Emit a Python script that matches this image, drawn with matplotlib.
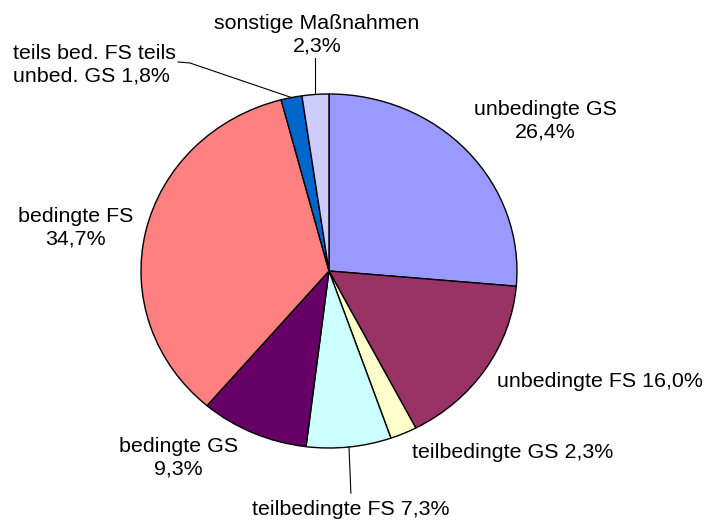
import numpy as np
import matplotlib.pyplot as plt

plt.rcParams['font.family'] = ['Liberation Sans', 'DejaVu Sans']

labels = ['unbedingte GS\n26,4%', 'unbedingte FS 16,0%', 'teilbedingte GS 2,3%',
          'teilbedingte FS 7,3%', 'bedingte GS\n9,3%', 'bedingte FS\n34,7%',
          'teils bed. FS teils\nunbed. GS 1,8%', 'sonstige Maßnahmen\n2,3%']
werte = [26.4, 16.0, 2.3, 7.3, 9.3, 34.7, 1.8, 2.3]
farben = ['#9999FF', '#993366', '#FFFFCC', '#CCFFFF', '#660066', '#FF8080', '#0066CC', '#CCCCFF']

# label positions in data units (pie radius 1), alignment
pos = [(1.149, 0.847, 'center'), (0.894, -0.626, 'left'), (0.444, -1.028, 'left'),
       (-0.41, -1.350, 'left'), (-0.801, -1.056, 'center'), (-1.346, 0.243, 'center'),
       (-1.681, 1.164, 'left'), (-0.064, 1.336, 'center')]

fig = plt.figure(figsize=(7.04, 5.22), dpi=100)
ax = fig.add_axes([0, 0, 1, 1])
wedges, _ = ax.pie(werte, colors=farben, startangle=90, counterclock=False,
                   wedgeprops=dict(edgecolor='black', linewidth=1))
ax.set_aspect('auto')
ax.set_xlim(-1.75, 1.995)
ax.set_ylim(-1.418, 1.531)
ax.axis('off')

for lab, (x, y, ha) in zip(labels, pos):
    ax.text(x, y, lab, ha=ha, va='center', fontsize=15.4, linespacing=1.25,
            multialignment=ha, zorder=5)

# leader lines
def rand(w):
    a = np.deg2rad((w.theta1 + w.theta2) / 2)
    return np.cos(a), np.sin(a)

x0, y0 = rand(wedges[7])
ax.plot([x0, x0], [y0, 1.203], color='black', lw=0.8)
x0, y0 = rand(wedges[6])
ax.plot([x0, -0.739, -0.803], [y0, 1.175, 1.181], color='black', lw=0.8)
x0, y0 = rand(wedges[3])
ax.plot([x0, x0 + 0.01], [y0, -1.255], color='black', lw=0.8)

fig.savefig('out.png', dpi=100)
